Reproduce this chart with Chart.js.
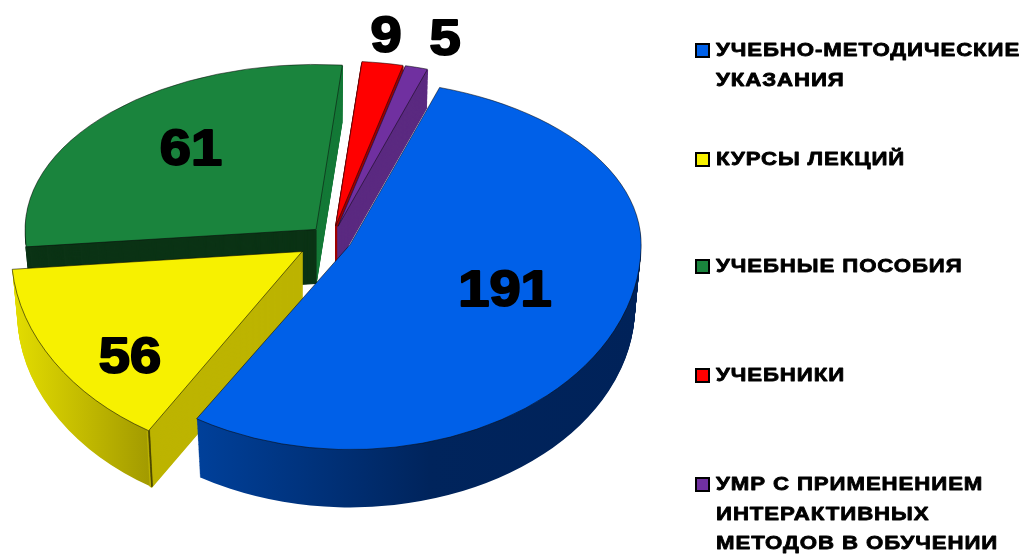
<!DOCTYPE html>
<html><head><meta charset="utf-8">
<style>html,body{margin:0;padding:0;background:#fff}canvas{display:block}</style>
<script src="https://cdn.jsdelivr.net/npm/chart.js@4"></script>
</head><body>
<canvas id="c" width="1022" height="554"></canvas>
<script>
const categories = ["УЧЕБНО-МЕТОДИЧЕСКИЕ\nУКАЗАНИЯ","КУРСЫ ЛЕКЦИЙ","УЧЕБНЫЕ ПОСОБИЯ","УЧЕБНИКИ","УМР С ПРИМЕНЕНИЕМ\nИНТЕРАКТИВНЫХ\nМЕТОДОВ В ОБУЧЕНИИ"];
const values = [191,56,61,9,5];
const colors = ["#0060E8","#F7F100","#1A843D","#FF0000","#7030A0"];

// Presentation of the fake-3D projection (not data). The reference's drawn sweeps are
// not proportional to its printed values, so each sweep gets a projection factor.
const spanScale = [0.9077,0.851,1.466,0.815,0.805];
const explodeImg = [20,35,22.6,22.5,22.5];
const depth = [62,60,54,37,37];
const order = [2,3,4,1,0];
const centre = {x:332,y:238.5}, RX = 291, K_BACK = 0.567, DEPTH_SHRINK = 0.02;
const kFront = [0.705,0.725,0.71,0.71,0.71];
const wallStops = [
  [[197,"#00409A"],[430,"#00245C"],[640,"#002259"]],
  [[12,"#E4DE00"],[80,"#C4BC00"],[148,"#A39B00"]],
  null,null,null];
const wallFlat = [null,null,"#0B3315","#A00000","#5B2A80"];
const rayWalls = [null,{start:"#BDB400"},{start:"#0B3315",end:"#157A38"},{start:"#A00000",end:"#A00000"},{start:"#5B2A80",end:"#5B2A80"}];
const labelPos = [[505,292],[130,359],[191,151],[386,38],[445,41]];
const legendY = [50,159,266,375,484];
const LEGEND_LINE = 29.5;

const threeD = {
  id:"threeD",
  beforeDatasetsDraw(chart){
    const ctx = chart.ctx, arcs = chart.getDatasetMeta(0).data;
    const s = RX/arcs[0].outerRadius;
    const tot = arcs.reduce((t,a,i)=>t+a.circumference*spanScale[i],0);
    let ang = arcs[0].startAngle;
    const geo = arcs.map((a,i)=>{
      const sw = a.circumference*spanScale[i]*(2*Math.PI/tot);
      const g = {a0:ang,a1:ang+sw}; ang += sw; return g;
    });
    const opt = (fill,bw,bc)=>({backgroundColor:fill,borderColor:bc||fill,borderWidth:bw||0,borderAlign:"center",
      borderJoinStyle:"round",borderRadius:0,borderDash:[],borderDashOffset:0,offset:0,spacing:0,circular:true});

    function drawPiece(el,i,a0,a1,inner,d,mkFill,bw,bc){
      const mid=(geo[i].a0+geo[i].a1)/2, O=explodeImg[i];
      const kk = Math.sin(mid)<0?K_BACK:0.71;
      const ax = centre.x+O*Math.cos(mid), ay = centre.y+O*Math.sin(mid)*kk;
      const f = 1-DEPTH_SHRINK*d/60;
      const saved = {s:el.startAngle,e:el.endAngle,c:el.circumference,i:el.innerRadius,o:el.options};
      el.startAngle=a0; el.endAngle=a1; el.circumference=a1-a0; el.innerRadius=inner;
      const split = Math.round(ay+d);
      [[0,split,K_BACK],[split,554-split+60,kFront[i]]].forEach(([y0,h,k])=>{
        ctx.save();
        ctx.beginPath(); ctx.rect(0,y0,1022,h); ctx.clip();
        ctx.translate(ax,ay+d);
        ctx.scale(s*f,s*f*k);
        ctx.translate(-el.x,-el.y);
        el.options = opt(mkFill(ax,s*f,el.x),bw?bw/s:0,bc);
        el.draw(ctx);
        ctx.restore();
      });
      el.startAngle=saved.s; el.endAngle=saved.e; el.circumference=saved.c; el.innerRadius=saved.i; el.options=saved.o;
    }

    order.forEach(i=>{
      const el=arcs[i], g=geo[i], dmax=depth[i], r=el.outerRadius;
      const wallFill=(ax,sc,ex)=>{
        if(wallFlat[i]) return wallFlat[i];
        const st=wallStops[i];
        const gx=x=>ex+(x-ax)/sc;
        const gr=ctx.createLinearGradient(gx(st[0][0]),0,gx(st[st.length-1][0]),0);
        const w=st[st.length-1][0]-st[0][0];
        st.forEach(p=>gr.addColorStop((p[0]-st[0][0])/w,p[1]));
        return gr;
      };
      for(let d=dmax;d>=1;d--) drawPiece(el,i,g.a0,g.a1,0,d,wallFill);
      const rw=rayWalls[i];
      if(rw){
        const w=0.006;
        if(rw.end) for(let d=dmax;d>=1;d--) drawPiece(el,i,g.a1-w,g.a1,0,d,()=>rw.end,1.4,rw.end);
        if(rw.start) for(let d=dmax;d>=1;d--) drawPiece(el,i,g.a0,g.a0+w,0,d,()=>rw.start,1.4,rw.start);
      }
      if(i===1) for(let d=dmax;d>=1;d--) drawPiece(el,i,g.a0,g.a0+0.002,r-2,d,()=>"#3a3700",0.5,"#3a3700");
      drawPiece(el,i,g.a0,g.a1,0,0,()=>colors[i],0.9,"rgba(10,10,10,0.75)");
    });
    return false;
  },
  afterDraw(chart){
    const ctx=chart.ctx;
    ctx.save();
    ctx.fillStyle="#000"; ctx.strokeStyle="#000"; ctx.lineJoin="round";
    ctx.textAlign="center"; ctx.textBaseline="middle";
    ctx.font='bold 50px "Liberation Sans"'; ctx.lineWidth=2;
    values.forEach((v,i)=>{
      ctx.save(); ctx.translate(labelPos[i][0],labelPos[i][1]); ctx.scale(1.12,1);
      ctx.fillText(String(v),0,0); ctx.strokeText(String(v),0,0);
      ctx.restore();
    });
    ctx.textAlign="left";
    ctx.font='bold 19px "Liberation Sans"'; ctx.lineWidth=0.8;
    ctx.letterSpacing="0.77px";
    categories.forEach((c,i)=>{
      const y=legendY[i]+1;
      ctx.fillStyle="#000"; ctx.fillRect(695,y-8,15,15);
      ctx.fillStyle=colors[i]; ctx.fillRect(697,y-6,11,11);
      ctx.fillStyle="#000";
      c.split("\n").forEach((t,j)=>{
        ctx.save(); ctx.translate(716,y+j*LEGEND_LINE); ctx.scale(1.17,1);
        ctx.fillText(t,0,0); ctx.strokeText(t,0,0);
        ctx.restore();
      });
    });
    ctx.restore();
  }
};

new Chart(document.getElementById("c"),{
  type:"pie",
  data:{labels:categories.map(c=>c.replace(/\n/g," ")),
    datasets:[{data:values,backgroundColor:colors,borderWidth:0}]},
  options:{responsive:false,animation:false,rotation:17.9,
    plugins:{legend:{display:false},tooltip:{enabled:false}}},
  plugins:[threeD]
});
</script>
</body></html>
